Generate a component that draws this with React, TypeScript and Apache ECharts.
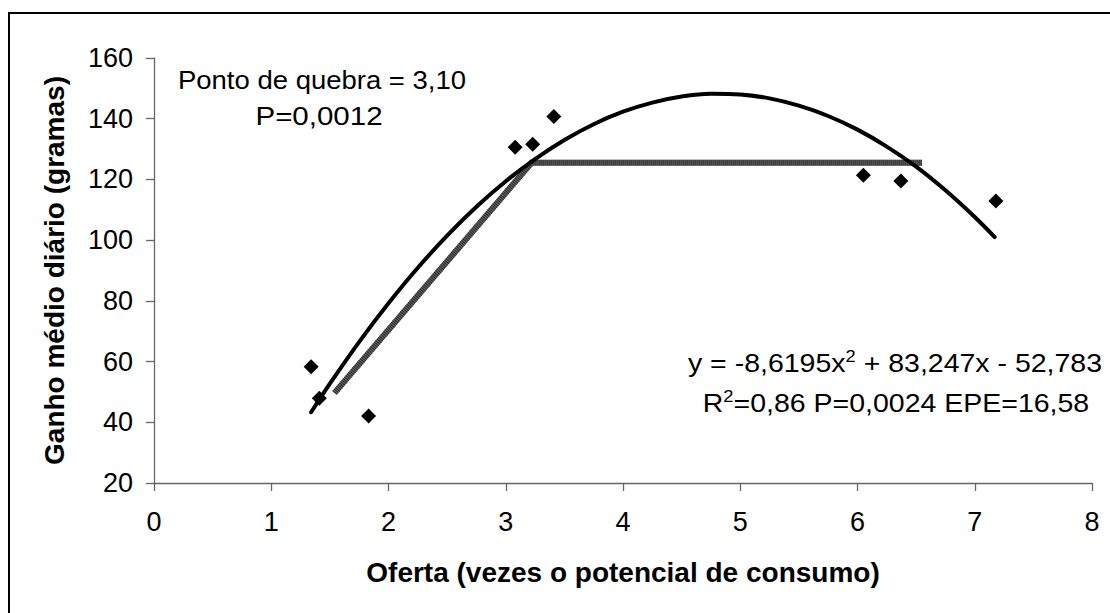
import React, { useEffect, useRef } from "react";
import * as echarts from "echarts";

// Observed data points (Oferta, Ganho médio diário)
const obsX = [1.34, 1.41, 1.83, 3.08, 3.23, 3.41, 6.05, 6.37, 7.18];
const obsY = [58.3, 47.9, 42.1, 130.6, 131.6, 140.7, 121.4, 119.5, 112.9];

// Quadratic trend curve
const curveX = [1.34, 1.5, 1.75, 2.0, 2.25, 2.5, 2.75, 3.0, 3.25, 3.5, 3.75, 4.0, 4.25, 4.5, 4.75, 5.0, 5.25, 5.5, 5.75, 6.0, 6.25, 6.5, 6.75, 7.0, 7.17];
const curveY = [43.3, 52.7, 66.5, 79.2, 90.9, 101.5, 111.0, 119.4, 126.7, 133.0, 138.2, 142.3, 145.3, 147.3, 148.2, 148.0, 146.7, 144.3, 140.9, 136.4, 130.8, 124.2, 116.4, 107.6, 101.0];

// Broken-line (plateau) model
const brokenX = [1.54, 3.22, 6.55];
const brokenY = [49.7, 125.5, 125.5];

// Axis ticks
const xMin = 0, xMax = 8, xStep = 1;
const yMin = 20, yMax = 160, yStep = 20;

const xTitle = "Oferta (vezes o potencial de consumo)";
const yTitle = "Ganho médio diário (gramas)";
const note1 = "Ponto de quebra = 3,10";
const note2 = "P=0,0012";

const FONT = "'Liberation Sans', Arial, sans-serif";

const zip = (xs: number[], ys: number[]) => xs.map((x, i) => [x, ys[i]]);

export default function App() {
  const ref = useRef<HTMLDivElement>(null);
  useEffect(() => {
    if (!ref.current) return;
    const chart = echarts.init(ref.current, null, { renderer: "svg" });
    const axisLabel = { color: "#000", fontFamily: FONT, fontSize: 27 };
    const axisName = { color: "#000", fontFamily: FONT, fontSize: 28, fontWeight: "bold" };
    const rich = {
      a: { fill: "#000", fontFamily: FONT, fontSize: 25, lineHeight: 28, verticalAlign: "bottom" },
      s: { fill: "#000", fontFamily: FONT, fontSize: 16, lineHeight: 16, verticalAlign: "top" },
    };
    chart.setOption({
      animation: false,
      backgroundColor: "#fff",
      grid: { left: 154, right: 18, top: 58, bottom: 130, containLabel: false },
      xAxis: {
        type: "value",
        min: xMin,
        max: xMax,
        interval: xStep,
        name: xTitle,
        nameLocation: "middle",
        nameGap: 75,
        nameTextStyle: axisName,
        axisLine: { show: true, onZero: false, lineStyle: { color: "#666", width: 1.3 } },
        axisTick: { show: true, inside: false, length: 8, lineStyle: { color: "#666", width: 1.3 } },
        axisLabel: { ...axisLabel, margin: 25 },
        splitLine: { show: false },
      },
      yAxis: {
        type: "value",
        min: yMin,
        max: yMax,
        interval: yStep,
        name: yTitle,
        nameLocation: "middle",
        nameGap: 86,
        nameTextStyle: axisName,
        axisLine: { show: true, onZero: false, lineStyle: { color: "#666", width: 1.3 } },
        axisTick: { show: true, inside: false, length: 8, lineStyle: { color: "#666", width: 1.3 } },
        axisLabel: { ...axisLabel, margin: 21 },
        splitLine: { show: false },
      },
      series: [
        {
          type: "line",
          data: zip(brokenX, brokenY),
          showSymbol: false,
          symbol: "none",
          lineStyle: { color: "#6a6a6a", width: 6, cap: "butt", join: "miter" },
          z: 2,
        },
        {
          type: "line",
          data: zip(brokenX, brokenY),
          showSymbol: false,
          symbol: "none",
          lineStyle: { color: "#262626", width: 6, type: [1, 1], cap: "butt", join: "miter" },
          z: 3,
        },
        {
          type: "line",
          data: zip(curveX, curveY),
          smooth: 0.3,
          showSymbol: false,
          symbol: "none",
          lineStyle: { color: "#000", width: 4, cap: "round", join: "round" },
          z: 4,
        },
        {
          type: "scatter",
          data: zip(obsX, obsY),
          symbol: "diamond",
          symbolSize: 15,
          itemStyle: { color: "#000", opacity: 1 },
          z: 5,
        },
      ],
      graphic: [
        {
          type: "rect",
          shape: { x: 9, y: 13, width: 1200, height: 700 },
          style: { fill: "none", stroke: "#000", lineWidth: 2 },
          silent: true,
        },
        {
          type: "text",
          x: 322,
          y: 80,
          scaleX: 1.1,
          style: { text: note1, fill: "#000", font: `25px ${FONT}`, textAlign: "center", textVerticalAlign: "middle" },
        },
        {
          type: "text",
          x: 319,
          y: 116,
          scaleX: 1.18,
          style: { text: note2, fill: "#000", font: `25px ${FONT}`, textAlign: "center", textVerticalAlign: "middle" },
        },
        {
          type: "text",
          x: 895,
          y: 362,
          scaleX: 1.14,
          style: {
            text: "{a|y = -8,6195x}{s|2}{a| + 83,247x - 52,783}",
            textAlign: "center",
            textVerticalAlign: "middle",
            rich,
          },
        },
        {
          type: "text",
          x: 896,
          y: 402,
          scaleX: 1.14,
          style: {
            text: "{a|R}{s|2}{a|=0,86 P=0,0024 EPE=16,58}",
            textAlign: "center",
            textVerticalAlign: "middle",
            rich,
          },
        },
      ],
    });
    return () => chart.dispose();
  }, []);
  return (
    <div
      ref={ref}
      style={{ position: "fixed", left: 0, top: 0, width: 1110, height: 613, background: "#fff" }}
    />
  );
}
